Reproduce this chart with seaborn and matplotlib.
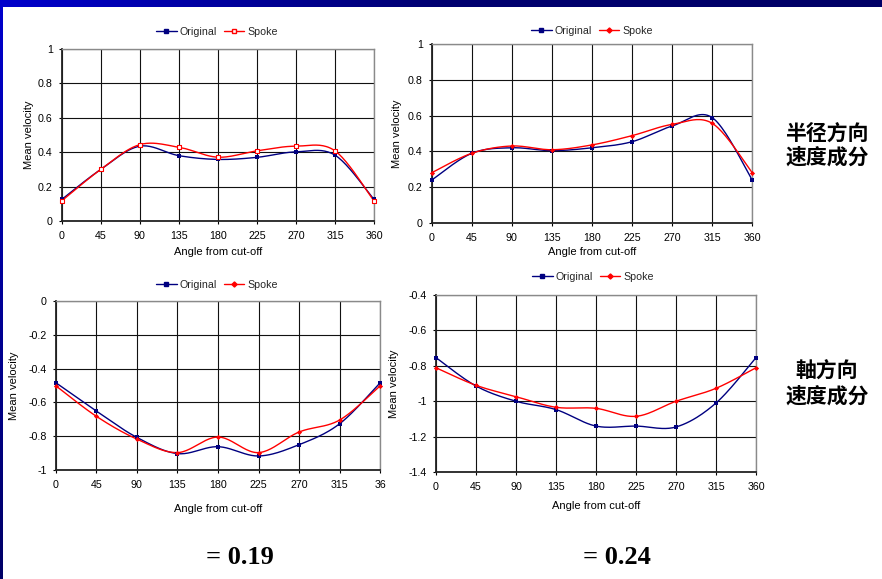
import numpy as np
import pandas as pd
import matplotlib
matplotlib.use("Agg")
import matplotlib.pyplot as plt
from matplotlib.lines import Line2D
from matplotlib.colors import LinearSegmentedColormap
import seaborn as sns

# ---------------- data ----------------
angles = [0, 45, 90, 135, 180, 225, 270, 315, 360]
x_tick_labels = ["0", "45", "90", "135", "180", "225", "270", "315", "360"]
x_tick_labels_bl = ["0", "45", "90", "135", "180", "225", "270", "315", "36"]

radial_left_original = [0.125, 0.30, 0.435, 0.38, 0.358, 0.37, 0.402, 0.383, 0.125]
radial_left_spoke = [0.117, 0.30, 0.444, 0.429, 0.371, 0.408, 0.435, 0.408, 0.117]

radial_right_original = [0.239, 0.389, 0.42, 0.404, 0.42, 0.454, 0.542, 0.589, 0.239]
radial_right_spoke = [0.28, 0.389, 0.43, 0.409, 0.436, 0.488, 0.551, 0.557, 0.28]

axial_left_original = [-0.483, -0.651, -0.807, -0.903, -0.862, -0.917, -0.850, -0.726, -0.483]
axial_left_spoke = [-0.501, -0.682, -0.817, -0.897, -0.805, -0.897, -0.775, -0.704, -0.501]

axial_right_original = [-0.755, -0.915, -1.001, -1.048, -1.141, -1.141, -1.146, -1.011, -0.755]
axial_right_spoke = [-0.812, -0.911, -0.975, -1.035, -1.041, -1.086, -1.001, -0.928, -0.812]

radial_yticks = [0, 0.2, 0.4, 0.6, 0.8, 1.0]
radial_ylabels = ["0", "0.2", "0.4", "0.6", "0.8", "1"]
axial_left_yticks = [-1.0, -0.8, -0.6, -0.4, -0.2, 0]
axial_left_ylabels = ["-1", "-0.8", "-0.6", "-0.4", "-0.2", "0"]
axial_right_yticks = [-1.4, -1.2, -1.0, -0.8, -0.6, -0.4]
axial_right_ylabels = ["-1.4", "-1.2", "-1", "-0.8", "-0.6", "-0.4"]

series_names = ["Original", "Spoke"]
radial_title = ["半径方向", "速度成分"]
axial_title = ["軸方向", "速度成分"]
corr_left = "= 0.19"
corr_right = "= 0.24"
x_label = "Angle from cut-off"
y_label = "Mean velocity"

# ---------------- style ----------------
sns.set_theme(style="white")
plt.rcParams["font.family"] = ["Liberation Sans", "DejaVu Sans"]
plt.rcParams["axes.unicode_minus"] = False

NAVY = "#000080"
RED = "#FF0000"
FS = 7.7
W, H = 882, 579
fig = plt.figure(figsize=(W / 100, H / 100), dpi=100)
fig.patch.set_facecolor("white")


def fx(px):
    return px / W


def fy(py):
    return 1 - py / H


def smooth(x, y, n=24):
    pts = np.column_stack([x, y]).astype(float)
    P = np.vstack([pts[0], pts, pts[-1]])
    out = []
    t = np.linspace(0, 1, n)[:, None]
    for i in range(1, len(P) - 2):
        p0, p1, p2, p3 = P[i - 1], P[i], P[i + 1], P[i + 2]
        c1 = p1 + (p2 - p0) / 6
        c2 = p2 - (p3 - p1) / 6
        seg = (1 - t) ** 3 * p1 + 3 * (1 - t) ** 2 * t * c1 + 3 * (1 - t) * t ** 2 * c2 + t ** 3 * p2
        out.append(seg if i == 1 else seg[1:])
    s = np.vstack(out)
    return s[:, 0], s[:, 1]


def panel(box, orig, spoke, yticks, ylabels, xlabels, legend_xy, xlabel_y, ylabel_x,
          hollow_spoke=False):
    l, r, t, b = box
    ax = fig.add_axes([fx(l), fy(b), fx(r - l), (b - t) / H])
    ax.set_facecolor("white")
    for vals, col in ((orig, NAVY), (spoke, RED)):
        sx, sy = smooth(angles, vals)
        sns.lineplot(x=sx, y=sy, ax=ax, color=col, lw=1.0, sort=False, estimator=None)
    sns.scatterplot(x=angles, y=orig, ax=ax, marker="s", color=NAVY, s=9,
                    edgecolor=NAVY, linewidth=0, zorder=5, clip_on=False)
    if hollow_spoke:
        sns.scatterplot(x=angles, y=spoke, ax=ax, marker="s", color="white", s=8,
                        edgecolor=RED, linewidth=0.8, zorder=6, clip_on=False)
    else:
        sns.scatterplot(x=angles, y=spoke, ax=ax, marker="D", color=RED, s=7,
                        edgecolor=RED, linewidth=0, zorder=6, clip_on=False)
    ax.set_xlim(0, 360)
    ax.set_ylim(yticks[0], yticks[-1])
    ax.set_xticks(angles)
    ax.set_xticklabels(xlabels)
    ax.set_yticks(yticks)
    ax.set_yticklabels(ylabels)
    ax.grid(True, color="#111111", lw=0.8)
    ax.set_axisbelow(True)
    for s in ("left", "bottom"):
        ax.spines[s].set_color("#222222")
        ax.spines[s].set_linewidth(1.3)
    for s in ("top", "right"):
        ax.spines[s].set_color("#8a8a8a")
        ax.spines[s].set_linewidth(1.0)
    ax.tick_params(axis="both", labelsize=FS, colors="black", length=2, width=0.8,
                   direction="out", left=True, bottom=True)
    ax.tick_params(axis="x", pad=5.5)
    ax.tick_params(axis="y", pad=4.5)
    ax.set_xlabel(x_label, fontsize=8, color="black")
    ax.xaxis.label.set_va("center")
    ax.xaxis.set_label_coords(0.5, (b - xlabel_y) / (b - t))
    ax.set_ylabel(y_label, fontsize=8, color="black")
    ax.yaxis.label.set_va("center")
    ax.yaxis.set_label_coords((ylabel_x - l) / (r - l), 0.5)
    handles = [
        Line2D([], [], color=NAVY, lw=1, marker="s", markersize=3, markerfacecolor=NAVY,
               markeredgecolor=NAVY),
        Line2D([], [], color=RED, lw=1, marker="s" if hollow_spoke else "D",
               markersize=3 if hollow_spoke else 2.6,
               markerfacecolor="white" if hollow_spoke else RED, markeredgecolor=RED),
    ]
    ax.legend(handles, series_names, loc="center", bbox_to_anchor=(fx(legend_xy[0]), fy(legend_xy[1])),
              bbox_transform=fig.transFigure, ncol=2, frameon=False, fontsize=FS,
              handlelength=1.9, handletextpad=0.3, columnspacing=0.6, borderpad=0)
    return ax


panel((61.7, 374, 49, 221), radial_left_original, radial_left_spoke, radial_yticks, radial_ylabels,
      x_tick_labels, (217, 32), 252, 29, hollow_spoke=True)
panel((431.7, 752.3, 44.3, 222.7), radial_right_original, radial_right_spoke, radial_yticks,
      radial_ylabels, x_tick_labels, (592, 31), 252, 397)
panel((55.7, 380.3, 301, 470), axial_left_original, axial_left_spoke, axial_left_yticks,
      axial_left_ylabels, x_tick_labels_bl, (217, 285), 509, 14)
panel((436, 756, 294.7, 472), axial_right_original, axial_right_spoke, axial_right_yticks,
      axial_right_ylabels, x_tick_labels, (593, 277), 506, 394)

# side titles
cjk = ["Noto Sans CJK SC", "DejaVu Sans"]
for i, line in enumerate(radial_title):
    fig.text(fx(827), fy(133 + 24 * i), line, family=cjk, fontsize=15, fontweight="bold",
             ha="center", va="center", color="black")
for i, line in enumerate(axial_title):
    fig.text(fx(827), fy(371 + 25 * i), line, family=cjk, fontsize=15, fontweight="bold",
             ha="center", va="center", color="black")

# correlation values
serif = ["Liberation Serif", "DejaVu Serif"]
fig.text(fx(240), fy(557), corr_left, family=serif, fontsize=19, fontweight="bold",
         ha="center", va="center", color="black")
fig.text(fx(617), fy(557), corr_right, family=serif, fontsize=19, fontweight="bold",
         ha="center", va="center", color="black")

# slide border: top gradient band and left edge
band = fig.add_axes([0, fy(7), 1, 7 / H])
cmap = LinearSegmentedColormap.from_list("band", ["#0000CC", "#000070", "#000066"])
band.imshow(np.linspace(0, 1, 256)[None, :], aspect="auto", cmap=cmap, extent=(0, 1, 0, 1))
band.axis("off")
edge = fig.add_axes([0, 0, 2.5 / W, fy(7)])
cmap2 = LinearSegmentedColormap.from_list("edge", ["#000066", "#0000CC"])
edge.imshow(np.linspace(0, 1, 256)[:, None], aspect="auto", cmap=cmap2, origin="lower",
            extent=(0, 1, 0, 1))
edge.axis("off")

fig.savefig("out.png", dpi=100, facecolor="white")
